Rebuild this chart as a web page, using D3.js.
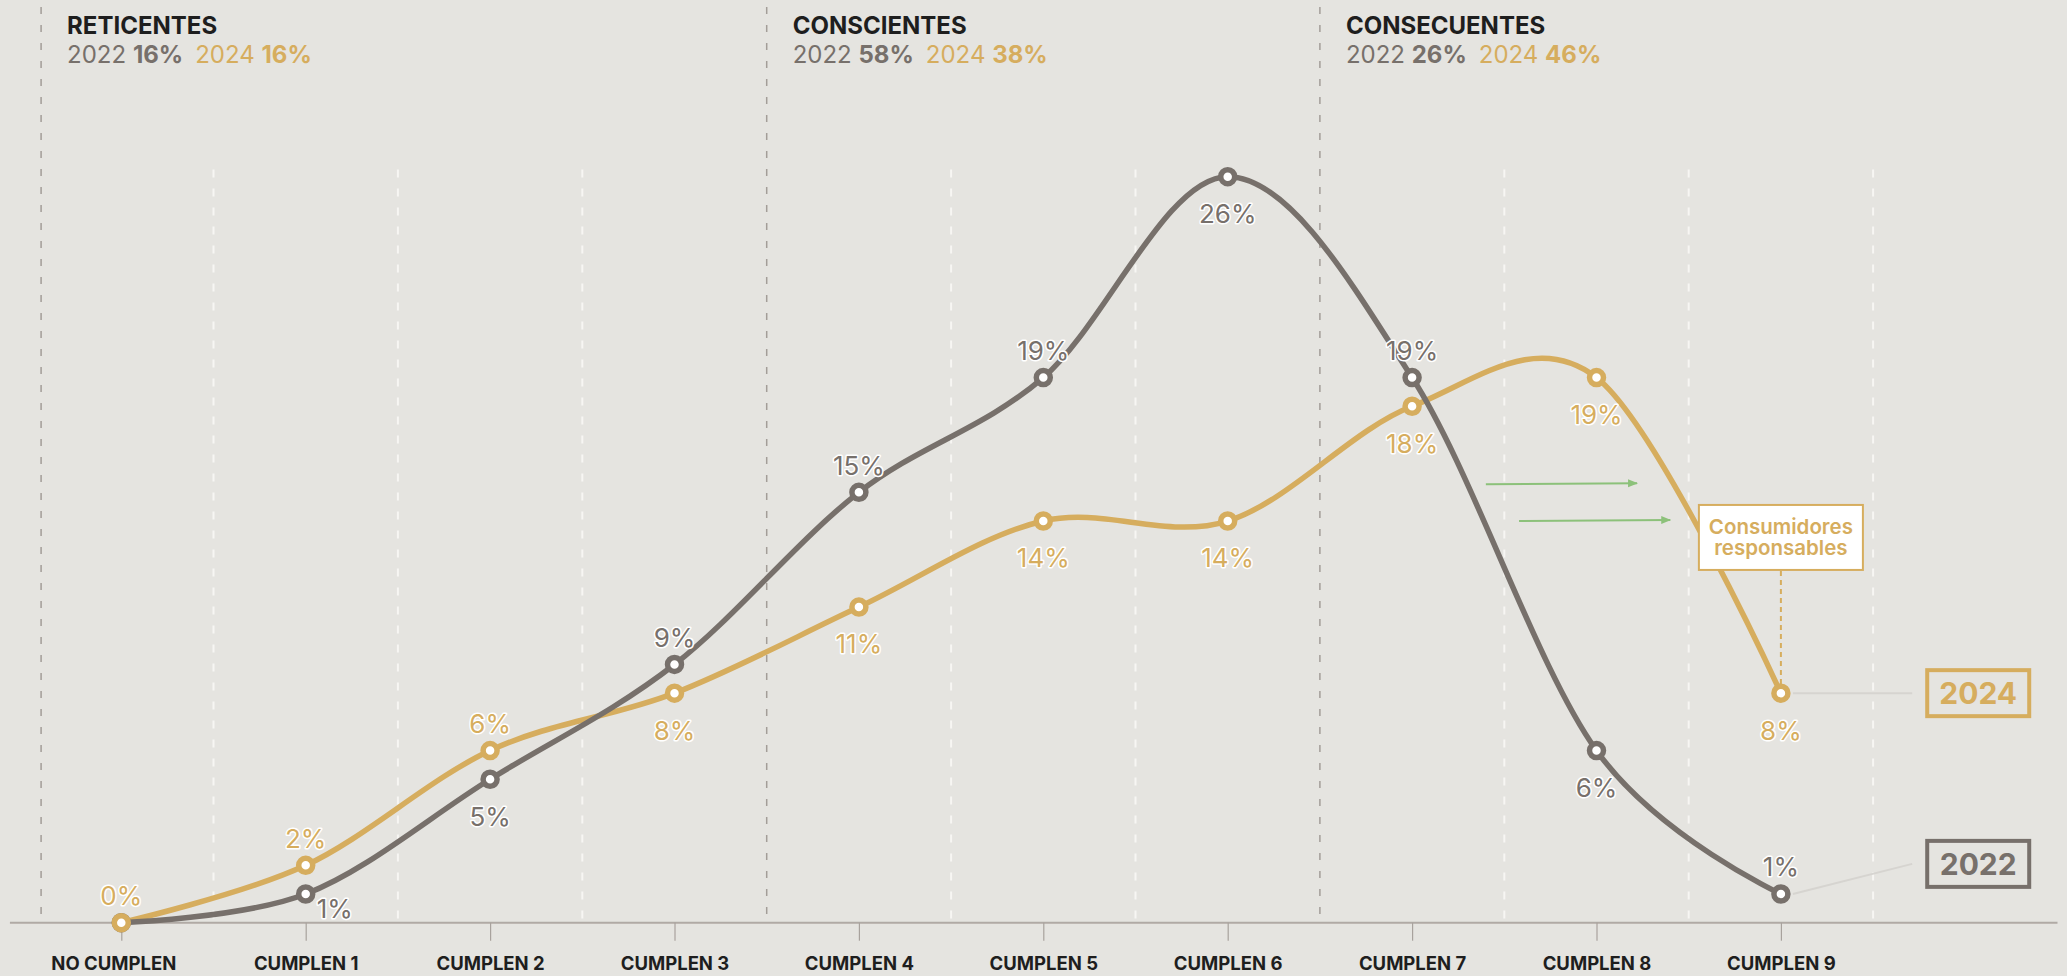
<!DOCTYPE html>
<html><head><meta charset="utf-8">
<script src="https://cdn.jsdelivr.net/npm/d3@7"></script>
<style>
html,body{margin:0;padding:0;background:#e5e4e0;}
svg{display:block;font-family:Inter,"Noto Sans",sans-serif;}
</style></head>
<body>
<svg id="chart" width="2067" height="976"></svg>
<script>
const categories = ["NO CUMPLEN","CUMPLEN 1","CUMPLEN 2","CUMPLEN 3","CUMPLEN 4","CUMPLEN 5","CUMPLEN 6","CUMPLEN 7","CUMPLEN 8","CUMPLEN 9"];
const values2022 = [0,1,5,9,15,19,26,19,6,1];
const values2024 = [0,2,6,8,11,14,14,18,19,8];
const labelPos2022 = ["none","right","below","above","above","above","below","above","below","above"];
const labelPos2024 = ["above","above","above","below","below","below","below","below","below","below"];
const groupNames = ["RETICENTES","CONSCIENTES","CONSECUENTES"];
const groupStart = [-0.435, 3.5, 6.5];
const groupShare2022 = [16,58,26];
const groupShare2024 = [16,38,46];
const years = ["2022","2024"];
const legendValue = [2.05, 8];
const arrowX0 = [7.40, 7.58];
const arrowX1 = [8.22, 8.40];
const arrowY = [15.28, 14.0];
const noteLines = ["Consumidores","responsables"];
const noteIndex = 9;
const noteTop = 14.56;

const C22 = "#77706b", C24 = "#d6ad5e", BG = "#e5e4e0";
const svg = d3.select("#chart");
svg.append("rect").attr("width",2067).attr("height",976).attr("fill",BG);

const xi = d3.scaleLinear().domain([0,9]).range([121.3,1780.9]);
const xp = d3.scalePoint().domain(categories).range([121.3,1780.9]).padding(0);
const y = d3.scaleLinear().domain([0,26]).range([922.7,176.7]);
const y0 = y(0);

// white dashed mid lines
const mids = d3.range(0,10).map(i=>i+0.5).filter(v=>v!==3.5 && v!==6.5);
svg.append("g").selectAll("line").data(mids).join("line")
  .attr("x1",d=>xi(d)).attr("x2",d=>xi(d))
  .attr("y1",y(26.25)).attr("y2",y0)
  .attr("stroke","#f7f6f3").attr("stroke-width",2).attr("stroke-dasharray","8,11");

// group dashed lines
svg.append("g").selectAll("line").data(groupStart).join("line")
  .attr("x1",d=>xi(d)).attr("x2",d=>xi(d))
  .attr("y1",7).attr("y2",y0)
  .attr("stroke","#a39d98").attr("stroke-width",1.5).attr("stroke-dasharray","7,11");

// group headers
groupNames.forEach((g,i)=>{
  const gx = xi(groupStart[i]) + 26;
  svg.append("text").attr("x",gx).attr("y",34).attr("font-size",24).attr("font-weight",700)
    .attr("fill","#1e1e1e").text(g);
  const t = svg.append("text").attr("x",gx).attr("y",63).attr("font-size",24);
  t.append("tspan").attr("fill",C22).attr("font-weight",400).text("2022 ");
  t.append("tspan").attr("fill",C22).attr("font-weight",700).text(groupShare2022[i]+"%");
  t.append("tspan").attr("fill",C24).attr("font-weight",400).attr("dx",12).text("2024 ");
  t.append("tspan").attr("fill",C24).attr("font-weight",700).text(groupShare2024[i]+"%");
});

// axis
svg.append("line").attr("x1",xi(-0.604)).attr("x2",xi(10.5)).attr("y1",y0).attr("y2",y0)
  .attr("stroke","#b0aaa5").attr("stroke-width",2);
const ax = svg.append("g").attr("transform",`translate(0,${y0})`)
  .call(d3.axisBottom(xp).tickSize(18).tickPadding(0));
ax.select(".domain").remove();
ax.selectAll(".tick line").attr("stroke","#a8a29d").attr("stroke-width",1.2);
ax.selectAll(".tick text").attr("y",47).attr("dy",null).attr("font-size",18.5).attr("font-weight",700)
  .attr("fill","#1e1e1e").attr("font-family","Inter,'Noto Sans',sans-serif")
  .attr("dx",(d,i)=>i===0?-8:0);

// green arrows
const defs = svg.append("defs");
defs.append("marker").attr("id","garrow").attr("viewBox","0 0 10 10").attr("refX",9).attr("refY",5)
  .attr("markerWidth",5).attr("markerHeight",5).attr("orient","auto").attr("markerUnits","strokeWidth")
  .append("path").attr("d","M0,1L10,5L0,9Z").attr("fill","#8cc17a");
svg.append("g").selectAll("line").data(arrowY).join("line")
  .attr("x1",(d,i)=>xi(arrowX0[i])).attr("x2",(d,i)=>xi(arrowX1[i]))
  .attr("y1",d=>y(d)).attr("y2",d=>y(d)-1)
  .attr("stroke","#8cc17a").attr("stroke-width",2).attr("marker-end","url(#garrow)");

// lines
const line = d3.line().x((d,i)=>xi(i)).y(d=>y(d)).curve(d3.curveCardinal.tension(0));
svg.append("path").datum(values2024).attr("d",line).attr("fill","none").attr("stroke",C24).attr("stroke-width",5.5);
svg.append("path").datum(values2022).attr("d",line).attr("fill","none").attr("stroke",C22).attr("stroke-width",5.5);

// legend connectors
const lastI = 9;
[values2022, values2024].forEach((vals,k)=>{
  const px = xi(lastI), py = y(vals[lastI]);
  const bx = xi(10.07), by = y(legendValue[k]);
  svg.append("line").attr("x1",px+12).attr("y1",py).attr("x2",bx-66).attr("y2",by)
    .attr("stroke","#d6d4d0").attr("stroke-width",2);
  const col = k===0?C22:C24;
  svg.append("rect").attr("x",bx-51).attr("y",by-23).attr("width",102).attr("height",46)
    .attr("fill","none").attr("stroke",col).attr("stroke-width",4);
  svg.append("text").attr("x",bx).attr("y",by).attr("dy","0.36em").attr("text-anchor","middle")
    .attr("font-size",30).attr("font-weight",700).attr("fill",col).text(years[k]);
});

// note dotted line and box
const nx = xi(noteIndex);
svg.append("line").attr("x1",nx).attr("x2",nx).attr("y1",y(noteTop)+66).attr("y2",y(values2024[noteIndex])-8)
  .attr("stroke",C24).attr("stroke-width",2).attr("stroke-dasharray","5,4");
svg.append("rect").attr("x",nx-82).attr("y",y(noteTop)).attr("width",164).attr("height",65)
  .attr("fill","#ffffff").attr("stroke",C24).attr("stroke-width",2);
noteLines.forEach((t,i)=>{
  svg.append("text").attr("x",nx).attr("y",y(noteTop)+29+i*21).attr("text-anchor","middle")
    .attr("font-size",20.5).attr("font-weight",600).attr("fill",C24).text(t);
});

// markers
[[values2022,C22],[values2024,C24]].forEach(([vals,col])=>{
  svg.append("g").selectAll("circle").data(vals).join("circle")
    .attr("cx",(d,i)=>xi(i)).attr("cy",d=>y(d)).attr("r",7)
    .attr("fill","#fff").attr("stroke",col).attr("stroke-width",5.5);
});

// value labels
function labels(vals,pos,col){
  const data = vals.map((v,i)=>({v,i,p:pos[i]})).filter(d=>d.p!=="none");
  svg.append("g").selectAll("text").data(data).join("text")
    .attr("x",d=>xi(d.i) + (d.p==="right"?29:0))
    .attr("y",d=>y(d.v) + (d.p==="above"?-27:d.p==="below"?37:15))
    .attr("dy","0.36em").attr("text-anchor","middle")
    .attr("font-size",26).attr("font-weight",400).attr("fill",col)
    .attr("stroke","#fff").attr("stroke-width",3).attr("stroke-linejoin","round")
    .attr("paint-order","stroke")
    .text(d=>d.v+"%");
}
labels(values2022,labelPos2022,C22);
labels(values2024,labelPos2024,C24);
</script>
</body></html>
